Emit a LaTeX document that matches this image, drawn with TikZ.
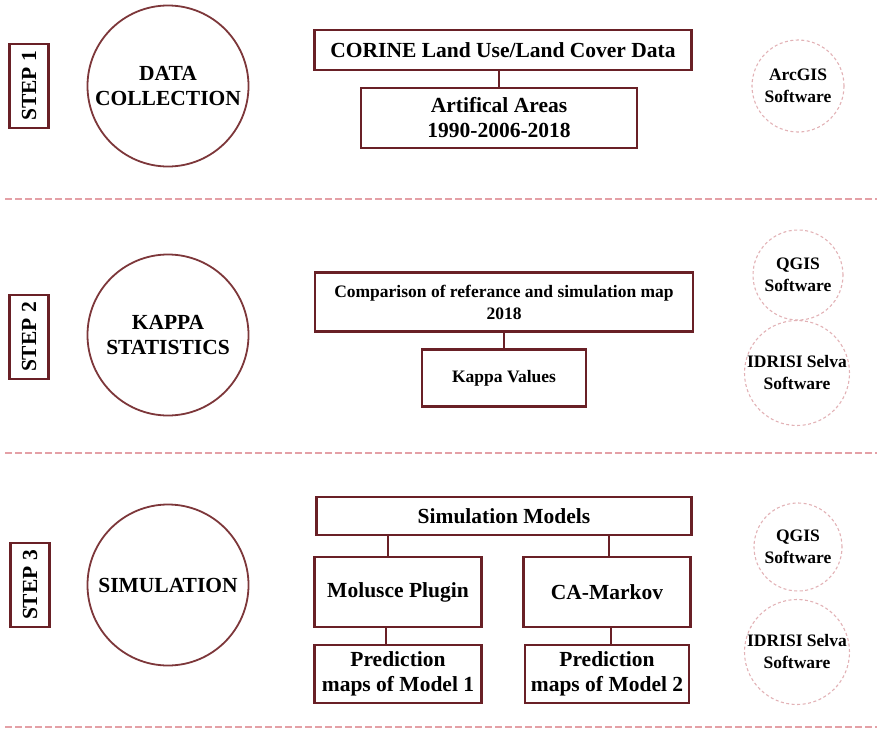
\documentclass[tikz,border=0pt]{standalone}
\usepackage{fontspec}
\setmainfont{Liberation Serif}
\usetikzlibrary{positioning}

\definecolor{boxred}{RGB}{105,32,38}
\definecolor{ringred}{RGB}{125,55,58}
\definecolor{dashpink}{RGB}{228,160,166}
\definecolor{toolpink}{RGB}{226,178,182}

\newcommand{\bigtxt}{\bfseries\fontsize{21.5}{25}\selectfont}
\newcommand{\smalltxt}{\bfseries\fontsize{17.5}{22}\selectfont}

\begin{document}
\begin{tikzpicture}[x=1pt, y=-1pt, node distance=68pt, on grid,
    box/.style={draw=boxred, line width=2.6pt, align=center, inner sep=0pt, font=\bigtxt},
    stage/.style={circle, draw=ringred, line width=1.8pt, minimum size=161pt, align=center, inner sep=0pt, font=\bigtxt},
    steptag/.style={draw=boxred, line width=2.6pt, rotate=90, minimum width=84pt, minimum height=39pt, inner sep=0pt, font=\bigtxt},
    tool/.style={circle, draw=toolpink, line width=1.1pt, dash pattern=on 3pt off 2.5pt, align=center, inner sep=0pt, font=\smalltxt},
    link/.style={draw=boxred, line width=2.6pt},
    separator/.style={draw=dashpink, line width=2.6pt, dash pattern=on 6.5pt off 3.5pt}]

    \useasboundingbox (0,0) rectangle (877,736);

    % Step 1: data collection
    \node[steptag] (tag1) at (29,86) {STEP 1};
    \node[stage] (collect) at (168,86) {DATA\\COLLECTION};
    \node[box, minimum width=377pt, minimum height=40pt] (corine) at (503,50) {CORINE Land Use/Land Cover Data};
    \node[box, minimum width=276pt, minimum height=60pt] (areas) at (499,118) {Artifical Areas\\1990-2006-2018};
    \node[tool, minimum size=92pt] (arcgis) at (798,86) {ArcGIS\\Software};

    % Step 2: kappa statistics
    \node[steptag] (tag2) at (29,337) {STEP 2};
    \node[stage] (kappa) at (168,335) {KAPPA\\STATISTICS};
    \node[box, font=\smalltxt, minimum width=378pt, minimum height=59pt] (compare) at (504,302) {Comparison of referance and simulation map\\2018};
    \node[box, font=\smalltxt, minimum width=164pt, minimum height=57pt] (values) [below=76pt of compare] {Kappa Values};
    \node[tool, minimum size=90pt] (qgis2) at (798,275) {QGIS\\Software};
    \node[tool, minimum size=100pt] (idrisi2) at (797,373) {IDRISI Selva\\Software};

    % Step 3: simulation
    \node[steptag] (tag3) at (30,585) {STEP 3};
    \node[stage] (simul) at (168,585) {SIMULATION};
    \node[box, minimum width=375pt, minimum height=38pt] (models) at (504,516) {Simulation Models};
    \node[box, minimum width=167pt, minimum height=70pt] (molusce) at (398,592) {Molusce Plugin};
    \node[box, minimum width=167pt, minimum height=70pt] (camarkov) at (607,592) {CA-Markov};
    \node[box, minimum width=167pt, minimum height=58pt] (pred1) [below=82pt of molusce] {Prediction\\maps of Model 1};
    \node[box, minimum width=164pt, minimum height=58pt] (pred2) [below=82pt of camarkov] {Prediction\\maps of Model 2};
    \node[tool, minimum size=88pt] (qgis3) at (798,547) {QGIS\\Software};
    \node[tool, minimum size=104pt] (idrisi3) at (797,652) {IDRISI Selva\\Software};

    % Links
    \path[link]
        (areas.north) edge (areas.north |- corine.south)
        (values.north) edge (values.north |- compare.south)
        ([xshift=-10pt]molusce.north) edge ([xshift=-10pt]molusce.north |- models.south)
        ([xshift=2pt]camarkov.north) edge ([xshift=2pt]camarkov.north |- models.south)
        ([xshift=-12pt]pred1.north) edge ([xshift=-12pt]pred1.north |- molusce.south)
        ([xshift=4pt]pred2.north) edge ([xshift=4pt]pred2.north |- camarkov.south);

    % Separators
    \foreach \y in {199,453,727}
        \draw[separator] (5,\y) -- (877,\y);

\end{tikzpicture}
\end{document}
